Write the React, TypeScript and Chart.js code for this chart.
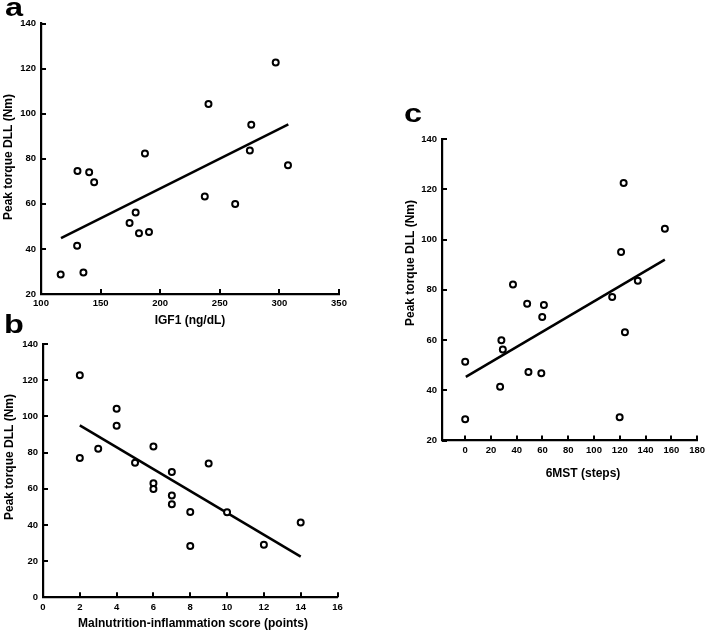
import React, { useEffect, useRef } from "react";
import { Chart, registerables } from "chart.js";

Chart.register(...registerables);

// ---------- Data ----------
// Panel a: IGF1 vs peak torque
const igf1 = [116.5, 130.3, 135.6, 130.6, 140.4, 144.6, 174.3, 179.4, 182.2, 190.6, 187.2, 237.4, 240.5, 262.9, 275.2, 276.4, 296.9, 307.2];
const torqueA = [28.6, 41.4, 29.5, 74.6, 74.0, 69.6, 51.5, 56.2, 47.0, 47.5, 82.3, 63.3, 104.3, 59.9, 83.7, 95.1, 122.7, 77.1];
const fitAx = [116.8, 307.5];
const fitAy = [44.8, 95.2];

// Panel b: Malnutrition-inflammation score vs peak torque
const misScore = [2, 2, 3, 4, 4, 5, 6, 6, 6, 7, 7, 7, 8, 8, 9, 10, 12, 14];
const torqueB = [122.7, 77.0, 82.1, 104.2, 94.8, 74.4, 83.4, 63.0, 59.9, 69.2, 56.2, 51.4, 47.1, 28.4, 73.9, 47.0, 29.1, 41.3];
const fitBx = [2, 14];
const fitBy = [95, 22.5];

// Panel c: 6MST vs peak torque
const steps6 = [0, 0, 27.1, 28.1, 29.2, 37.1, 48.1, 49.1, 59.1, 59.8, 61.1, 114.1, 119.9, 121, 123, 124, 134, 155];
const torqueC = [51.3, 28.5, 41.4, 59.9, 56.2, 82.1, 74.4, 47.3, 46.8, 69.2, 73.9, 77.1, 29.3, 95, 122.5, 63.1, 83.6, 104.3];
const fitCx = [0.5, 155];
const fitCy = [45.3, 92];

// Axis ranges [min, max, step]
const xAxisA = [100, 350, 50];
const yAxisA = [20, 140, 20];
const xAxisB = [0, 16, 2];
const yAxisB = [0, 140, 20];
const xAxisC = [-18, 180, 20];
const yAxisC = [20, 140, 20];

const yTitle = "Peak torque DLL (Nm)";
const xTitleA = "IGF1 (ng/dL)";
const xTitleB = "Malnutrition-inflammation score (points)";
const xTitleC = "6MST (steps)";

const FONT = "'Liberation Sans', Arial, Helvetica, sans-serif";
const TITLE_SIZE = 12;
const TICK_SIZE = 9.5;

const innerTicks = {
  id: "innerTicks",
  afterDraw(chart: any) {
    const { ctx, chartArea: a, scales } = chart;
    const x = scales.x;
    const y = scales.y;
    ctx.save();
    ctx.strokeStyle = "#000";
    ctx.lineWidth = 2;
    ctx.beginPath();
    x.ticks.forEach((t: any) => {
      const p = Math.round(x.getPixelForValue(t.value));
      ctx.moveTo(p, a.bottom);
      ctx.lineTo(p, a.bottom - 5);
    });
    y.ticks.forEach((t: any) => {
      const p = Math.round(y.getPixelForValue(t.value));
      ctx.moveTo(a.left, p);
      ctx.lineTo(a.left + 5, p);
    });
    ctx.stroke();
    ctx.restore();
  },
};

type Spec = {
  left: number;
  top: number;
  width: number;
  height: number;
  area: { l: number; t: number; r: number; b: number };
  xTitlePos: number[];
  yTitlePos: number[];
  xs: number[];
  ys: number[];
  fitX: number[];
  fitY: number[];
  xAxis: number[];
  yAxis: number[];
  xTitle: string;
};

function Panel({ spec }: { spec: Spec }) {
  const ref = useRef<HTMLCanvasElement>(null);
  useEffect(() => {
    const s = spec;
    const padLeft = 0;
    const yW = s.area.l - s.left - padLeft;
    const padTop = s.area.t - s.top;
    const padRight = s.left + s.width - s.area.r;
    const xH = 22;
    const padBottom = s.top + s.height - s.area.b - xH;
    const titles = {
      id: "axisTitles",
      afterDraw(chart: any) {
        const ctx = chart.ctx;
        ctx.save();
        ctx.fillStyle = "#000";
        ctx.font = `bold ${TITLE_SIZE}px ${FONT}`;
        ctx.textAlign = "center";
        ctx.textBaseline = "middle";
        ctx.fillText(s.xTitle, s.xTitlePos[0] - s.left, s.xTitlePos[1] - s.top);
        ctx.translate(s.yTitlePos[0] - s.left, s.yTitlePos[1] - s.top);
        ctx.rotate(-Math.PI / 2);
        ctx.fillText(yTitle, 0, 0);
        ctx.restore();
      },
    };
    const tickFont = { family: FONT, size: TICK_SIZE, weight: "bold" as const };
    const chart = new Chart(ref.current as HTMLCanvasElement, {
      type: "scatter",
      data: {
        datasets: [
          {
            data: s.xs.map((x, i) => ({ x, y: s.ys[i] })),
            pointRadius: 3,
            pointBorderWidth: 2,
            pointBorderColor: "#000",
            pointBackgroundColor: "#fff",
            borderColor: "#000",
            showLine: false,
          },
          {
            data: s.fitX.map((x, i) => ({ x, y: s.fitY[i] })),
            showLine: true,
            pointRadius: 0,
            borderColor: "#000",
            borderWidth: 2.5,
          },
        ],
      },
      options: {
        responsive: false,
        animation: false,
        layout: { padding: { left: padLeft, top: padTop, right: padRight, bottom: padBottom } },
        plugins: { legend: { display: false }, tooltip: { enabled: false } },
        scales: {
          x: {
            type: "linear",
            min: s.xAxis[0],
            max: s.xAxis[1],
            afterFit: (sc: any) => {
              sc.height = xH;
            },
            ticks: {
              stepSize: s.xAxis[2],
              includeBounds: false,
              padding: 4,
              color: "#000",
              font: tickFont,
              callback: (v: any) => String(v),
              maxRotation: 0,
            },
            grid: { display: false, drawTicks: false },
            border: { display: true, color: "#000", width: 2.2 },
          },
          y: {
            type: "linear",
            min: s.yAxis[0],
            max: s.yAxis[1],
            afterFit: (sc: any) => {
              sc.width = yW;
            },
            ticks: {
              stepSize: s.yAxis[2],
              padding: 5,
              color: "#000",
              font: tickFont,
              callback: (v: any) => String(v),
            },
            grid: { display: false, drawTicks: false },
            border: { display: true, color: "#000", width: 2.2 },
          },
        },
      },
      plugins: [innerTicks, titles],
    });
    return () => chart.destroy();
  }, []);
  return (
    <canvas
      ref={ref}
      width={spec.width}
      height={spec.height}
      style={{ position: "absolute", left: spec.left, top: spec.top, width: spec.width, height: spec.height }}
    />
  );
}

const specA: Spec = {
  left: 0, top: 0, width: 354, height: 335,
  area: { l: 41, t: 23.5, r: 339, b: 294 },
  xTitlePos: [190, 321], yTitlePos: [8.5, 157],
  xs: igf1, ys: torqueA, fitX: fitAx, fitY: fitAy,
  xAxis: xAxisA, yAxis: yAxisA, xTitle: xTitleA,
};
const specB: Spec = {
  left: 0, top: 330, width: 354, height: 301,
  area: { l: 43, t: 344, r: 337.5, b: 597.3 },
  xTitlePos: [193, 623.5], yTitlePos: [9.5, 457],
  xs: misScore, ys: torqueB, fitX: fitBx, fitY: fitBy,
  xAxis: xAxisB, yAxis: yAxisB, xTitle: xTitleB,
};
const specC: Spec = {
  left: 380, top: 110, width: 329, height: 380,
  area: { l: 442, t: 139, r: 700, b: 440.5 },
  xTitlePos: [583, 474], yTitlePos: [411, 263],
  xs: steps6, ys: torqueC, fitX: fitCx, fitY: fitCy,
  xAxis: xAxisC, yAxis: yAxisC, xTitle: xTitleC,
};

const labelStyle = (left: number, top: number): React.CSSProperties => ({
  position: "absolute",
  left,
  top,
  fontFamily: FONT,
  fontWeight: "bold",
  fontSize: 26,
  lineHeight: "26px",
  color: "#000",
  transform: "scaleX(1.25)",
  transformOrigin: "left top",
});

export default function App() {
  return (
    <div style={{ position: "absolute", left: 0, top: 0, width: 709, height: 631, background: "#fff", overflow: "hidden" }}>
      <Panel spec={specA} />
      <Panel spec={specB} />
      <Panel spec={specC} />
      <div style={labelStyle(5, -6.5)}>a</div>
      <div style={labelStyle(4, 311)}>b</div>
      <div style={labelStyle(404, 100)}>c</div>
    </div>
  );
}
